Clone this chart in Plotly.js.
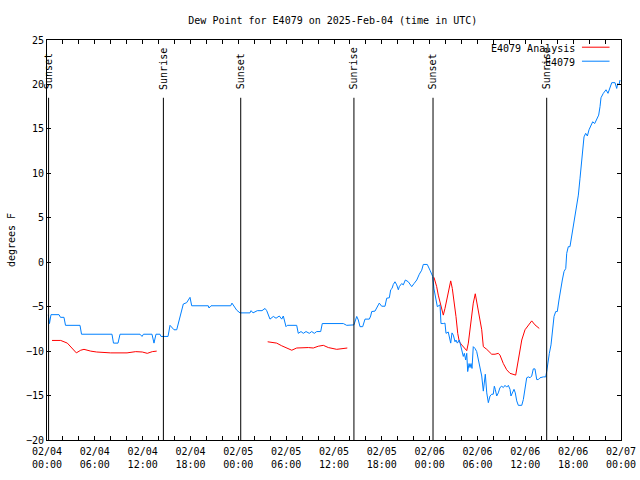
<!DOCTYPE html>
<html>
<head>
<meta charset="utf-8">
<script src="https://cdn.plot.ly/plotly-3.0.1.min.js"></script>
<style>html,body{margin:0;padding:0;background:#fff}#chart{width:640px;height:480px}</style>
</head>
<body>
<div id="chart"></div>
<script>
// Hours since 2025-02-04 00:00 UTC and dew point (°F)
const startISO = "2025-02-04T00:00:00Z";

const obsHours = [0.16,0.31,0.5,1.51,1.69,2.13,2.32,4.14,4.33,8.15,8.34,8.91,9.16,11.67,11.92,12.1,13.17,13.42,13.67,14.17,14.3,15.18,15.43,15.8,15.93,16.27,16.47,16.9,17.1,17.52,17.94,18.15,20.23,20.32,20.57,23.04,23.2,23.8,24.21,25.46,25.6,25.84,26.38,26.97,27.35,27.56,27.97,28.39,28.73,29.14,29.44,29.64,29.98,30.14,31.32,31.52,31.86,32.15,32.49,32.9,33.2,33.53,33.83,34.33,34.53,37.17,37.59,38.5,38.85,39.05,39.26,39.6,39.89,40.43,40.6,40.73,41.14,41.56,41.68,41.98,42.4,42.61,42.94,43.11,43.28,43.44,43.65,43.87,44.07,44.19,44.49,44.69,44.95,45.32,45.75,46.04,46.38,46.7,47.0,47.2,47.7,48.04,48.38,48.54,48.76,48.96,49.3,49.42,49.71,49.92,50.05,50.33,50.64,50.8,50.97,51.18,51.3,51.47,51.72,51.89,52.06,52.22,52.35,52.52,52.65,52.77,52.94,53.06,53.19,53.31,53.47,53.69,53.9,54.1,54.31,54.53,54.73,54.85,54.98,55.16,55.36,55.57,55.78,55.98,56.11,56.23,56.41,56.61,56.82,57.04,57.24,57.45,57.66,57.87,58.08,58.2,58.42,58.58,58.74,58.92,59.12,59.55,59.75,59.96,60.17,60.38,60.59,60.8,61.0,61.21,61.43,61.63,61.84,62.26,62.56,62.68,62.76,63.01,63.22,63.38,63.6,63.81,64.01,64.22,64.44,64.64,64.85,65.07,65.19,65.39,65.6,65.82,66.02,66.23,66.44,66.65,66.86,67.07,67.2,67.36,67.57,67.78,67.99,68.2,68.45,68.7,68.95,69.2,69.37,69.49,69.78,70.12,70.37,70.62,70.84,71.25,71.46,71.59,71.75,71.88];
const obsDew = [-5.9,-6.9,-5.9,-5.9,-6.2,-6.2,-7.1,-7.1,-8.1,-8.1,-9.1,-9.1,-8.1,-8.1,-8.35,-8.1,-8.1,-9.1,-8.1,-8.1,-8.35,-8.35,-7.1,-7.4,-7.6,-7.6,-6.9,-5.4,-4.7,-4.55,-3.95,-4.9,-4.9,-5.15,-4.9,-4.9,-4.6,-5.4,-5.7,-5.7,-5.45,-5.7,-5.45,-5.45,-5.2,-5.45,-6.4,-6.1,-6.3,-6.05,-6.4,-6.05,-7.25,-7.1,-7.1,-8.0,-7.8,-8.0,-7.8,-8.0,-7.8,-8.0,-7.8,-7.8,-6.9,-6.9,-7.1,-7.05,-6.1,-6.5,-7.25,-7.25,-6.4,-6.4,-6.05,-5.55,-5.5,-4.8,-4.6,-4.95,-4.95,-4.05,-4.0,-3.1,-2.95,-2.5,-2.2,-2.55,-3.1,-2.75,-2.4,-2.55,-2.0,-2.2,-2.75,-2.4,-2.0,-1.35,-0.9,-0.25,-0.25,-0.9,-1.6,-3.0,-4.05,-5.0,-4.8,-6.9,-6.9,-6.85,-8.0,-7.85,-9.1,-7.95,-8.2,-8.95,-8.75,-9.1,-8.75,-9.5,-10.05,-10.6,-10.25,-11.0,-10.25,-12.3,-11.4,-11.85,-11.4,-11.95,-9.5,-9.7,-10.05,-11.0,-11.95,-12.8,-14.5,-13.2,-12.6,-14.7,-15.8,-15.05,-14.85,-14.85,-13.95,-14.3,-15.05,-14.7,-14.1,-13.95,-14.1,-13.85,-14.05,-13.85,-14.3,-15.05,-14.5,-14.3,-14.7,-15.6,-16.1,-16.1,-15.45,-13.95,-13.0,-12.9,-13.0,-12.8,-12.0,-12.0,-13.2,-13.2,-13.0,-12.9,-12.9,-12.3,-11.75,-10.25,-9.3,-8.0,-6.1,-5.55,-5.55,-4.25,-2.75,-2.0,-1.05,-0.7,1.0,1.75,1.75,2.9,4.0,5.1,6.25,7.55,9.45,11.1,12.8,14.1,14.5,14.2,14.9,15.25,15.8,15.6,16.0,16.55,17.5,18.5,19.0,19.4,19.0,19.55,20.2,20.2,19.55,20.1,19.95,20.5];

const anaHours = [0.63,1.72,2.55,3.17,3.68,4.23,4.64,5.48,6.23,7.99,10.04,11.13,11.95,12.58,13.21,13.76,null,
  27.68,28.19,28.81,29.44,30.07,30.7,31.32,32.15,32.78,33.4,34.03,34.66,35.29,36.34,37.17,37.67,null,
  48.54,48.88,49.08,49.3,49.51,49.71,49.92,50.14,50.34,50.64,50.84,51.05,51.3,51.52,51.72,52.02,52.31,52.65,52.85,53.06,53.27,53.47,53.72,53.98,54.23,54.53,54.73,55.16,55.78,56.2,56.61,56.82,57.24,57.66,58.08,58.49,58.79,59.12,59.55,59.96,60.38,60.8,61.21,61.75];
const anaDew = [-8.8,-8.8,-9.1,-9.7,-10.2,-9.9,-9.8,-10.0,-10.1,-10.2,-10.2,-10.06,-10.1,-10.25,-10.06,-10.0,null,
  -8.95,-9.05,-9.1,-9.4,-9.65,-9.9,-9.65,-9.6,-9.6,-9.65,-9.45,-9.35,-9.6,-9.8,-9.7,-9.65,null,
  -1.7,-2.75,-3.7,-4.45,-5.2,-5.95,-5.2,-4.25,-3.3,-2.1,-2.95,-4.25,-6.1,-8.0,-8.95,-9.3,-9.55,-9.95,-9.1,-7.6,-6.1,-4.6,-3.55,-4.8,-6.1,-7.6,-9.5,-9.8,-10.35,-10.35,-10.25,-10.45,-11.4,-12.1,-12.5,-12.6,-12.7,-11.0,-8.75,-7.6,-7.05,-6.6,-7.05,-7.45];

const sunHours  = [0.2, 14.6, 24.3, 38.5, 48.42, 62.68];
const sunLabels = ["Sunset","Sunrise","Sunset","Sunrise","Sunset","Sunrise"];
const sunLineTop = 18.5;

const seriesNames = ["E4079 Analysis","E4079"];
const seriesColors = ["#ff0000","#0080ff"];

const t0 = Date.parse(startISO);
function toDate(h){
  if (h === null) return null;
  return new Date(t0 + h*3600e3).toISOString().replace('T',' ').slice(0,19);
}

const FONT = "DejaVu Sans Mono, Liberation Mono, monospace";

const traces = [
  {x: anaHours.map(toDate), y: anaDew, type:'scatter', mode:'lines', name: seriesNames[0],
   line:{color: seriesColors[0], width:1}, connectgaps:false, showlegend:false},
  {x: obsHours.map(toDate), y: obsDew, type:'scatter', mode:'lines', name: seriesNames[1],
   line:{color: seriesColors[1], width:1}, showlegend:false}
];

const shapes = sunHours.map(h => ({
  type:'line', xref:'x', yref:'y', x0: toDate(h), x1: toDate(h), y0: -20, y1: sunLineTop,
  line:{color:'#000', width:1}
}));
const annotations = sunHours.map((h,i) => ({
  xref:'x', yref:'y', x: toDate(h), y: sunLineTop+0.7, text: sunLabels[i], textangle:-90,
  showarrow:false, xanchor:'center', yanchor:'bottom', font:{family:FONT, size:10, color:'#000'}
}));

// legend (gnuplot style: text left, sample right)
seriesNames.forEach((n,i) => {
  annotations.push({xref:'paper', yref:'paper', x:0.923, y: 0.978 - i*0.034, text:n, showarrow:false,
    xanchor:'right', yanchor:'middle', font:{family:FONT, size:10, color:'#000'}});
  shapes.push({type:'line', xref:'paper', yref:'paper', x0:0.932, x1:0.98, y0:0.982 - i*0.035, y1:0.982 - i*0.035,
    line:{color:seriesColors[i], width:1}});
});

const layout = {
  width:640, height:480,
  margin:{l:47, r:19, t:40, b:40},
  paper_bgcolor:'#fff', plot_bgcolor:'#fff',
  font:{family:FONT, size:10, color:'#000'},
  title:{text:"Dew Point for E4079 on 2025-Feb-04 (time in UTC)", x:0.52, xanchor:'center', y:0.958, yanchor:'middle',
         font:{family:FONT, size:10, color:'#000'}},
  xaxis:{type:'date', range:[toDate(0), toDate(72)], tickformat:'%m/%d<br>%H:%M', dtick:6*3600e3,
         tick0:toDate(0), ticks:'inside', ticklen:4, tickcolor:'#000', showline:true, linecolor:'#000', linewidth:1,
         mirror:'allticks', showgrid:false, zeroline:false, ticklabelstandoff:2,
         minor:{dtick:2*3600e3, ticks:'inside', ticklen:4, tickcolor:'#000', showgrid:false},
         tickfont:{family:FONT, size:10}},
  yaxis:{range:[-20,25], dtick:5, tick0:0, ticks:'inside', ticklen:4, tickcolor:'#000', showline:true, linecolor:'#000',
         linewidth:1, mirror:'allticks', showgrid:false, zeroline:false,
         title:{text:'degrees F', font:{family:FONT, size:10}, standoff:8},
         tickfont:{family:FONT, size:10}},
  shapes: shapes,
  annotations: annotations,
  showlegend:false
};

Plotly.newPlot('chart', traces, layout, {staticPlot:true, displayModeBar:false});
</script>
</body>
</html>
